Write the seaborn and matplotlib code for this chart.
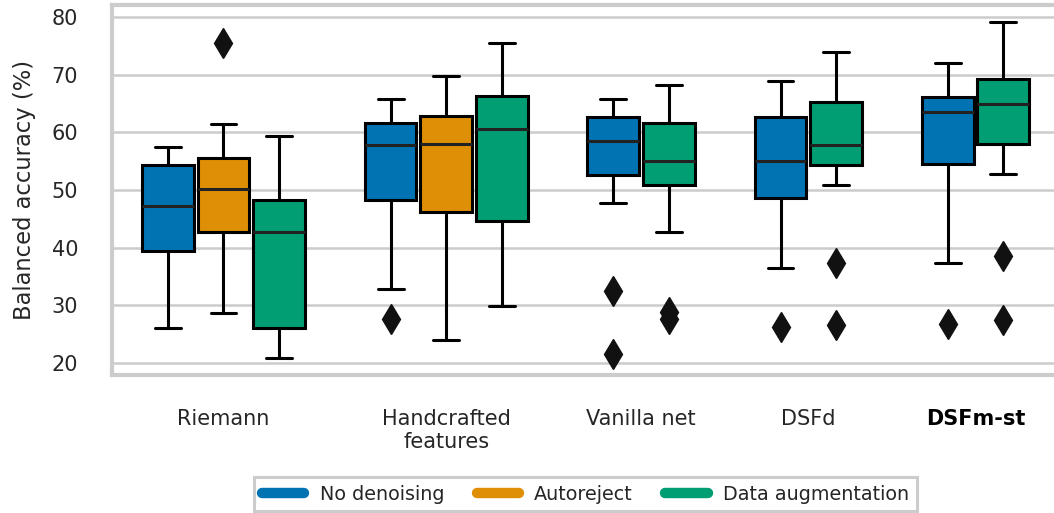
import numpy as np
import pandas as pd
import matplotlib.pyplot as plt
import seaborn as sns
from matplotlib.lines import Line2D

# %%
methods = ['Riemann', 'Handcrafted\nfeatures', 'Vanilla net', 'DSFd', 'DSFm-st']
conditions = ['No denoising', 'Autoreject', 'Data augmentation']

# balanced accuracy (%) per fold
riemann_none = [26.1, 31.5, 36.8, 39.4, 42.0, 45.1, 47.2, 49.6, 52.3, 54.3, 55.4, 56.5, 57.4]
riemann_ar = [28.6, 34.0, 39.5, 42.8, 45.3, 48.1, 50.2, 52.0, 53.9, 55.5, 57.8, 61.4, 75.5]
riemann_aug = [20.9, 23.1, 24.8, 26.0, 33.5, 39.7, 42.8, 44.6, 46.9, 48.3, 51.2, 55.0, 59.4]
hand_none = [27.6, 32.9, 41.5, 48.2, 52.4, 55.6, 57.8, 59.0, 60.5, 61.7, 63.1, 64.5, 65.8]
hand_ar = [23.9, 35.2, 41.8, 46.2, 50.6, 54.9, 57.9, 59.5, 61.2, 62.8, 65.0, 67.4, 69.7]
hand_aug = [29.9, 36.4, 41.2, 44.7, 50.3, 56.8, 60.6, 62.5, 64.7, 66.4, 69.1, 72.3, 75.5]
vanilla_none = [21.6, 32.4, 47.7, 52.6, 54.8, 56.9, 58.5, 60.1, 61.4, 62.7, 63.9, 64.8, 65.8]
vanilla_aug = [27.6, 28.8, 42.8, 50.9, 52.3, 53.8, 55.0, 57.1, 59.6, 61.6, 63.8, 66.0, 68.3]
dsfd_none = [26.2, 36.5, 43.1, 48.7, 51.0, 53.2, 55.0, 57.8, 60.3, 62.7, 65.1, 67.2, 69.0]
dsfd_aug = [26.6, 37.3, 50.8, 54.4, 55.6, 56.7, 57.8, 60.2, 62.9, 65.3, 68.0, 71.1, 74.0]
dsfm_none = [26.8, 37.3, 46.2, 54.5, 58.1, 61.2, 63.6, 64.4, 65.3, 66.2, 68.0, 70.2, 72.1]
dsfm_aug = [27.4, 38.6, 52.8, 58.0, 60.4, 62.9, 65.0, 66.3, 67.8, 69.3, 72.0, 75.4, 79.1]

results = [
    [('No denoising', riemann_none), ('Autoreject', riemann_ar), ('Data augmentation', riemann_aug)],
    [('No denoising', hand_none), ('Autoreject', hand_ar), ('Data augmentation', hand_aug)],
    [('No denoising', vanilla_none), ('Data augmentation', vanilla_aug)],
    [('No denoising', dsfd_none), ('Data augmentation', dsfd_aug)],
    [('No denoising', dsfm_none), ('Data augmentation', dsfm_aug)],
]

# layout: first box slot of each group
group_start = [0, 4, 8, 11, 14]

# %%
rows = []
tick_pos = []
for start, group in zip(group_start, results):
    for j, (cond, vals) in enumerate(group):
        for v in vals:
            rows.append({'pos': start + j, 'acc': v, 'cond': cond})
    tick_pos.append(start + (len(group) - 1) / 2)
df = pd.DataFrame(rows)

# %%
sns.set_style('whitegrid')
palette = sns.color_palette('colorblind')[:3]

fig = plt.figure(figsize=(10.54, 5.13), dpi=100)
ax = fig.add_axes([0.1063, 0.269, 0.8985, 0.7212])

sns.boxplot(data=df, x='pos', y='acc', hue='cond', hue_order=conditions,
            palette=palette, native_scale=True, dodge=False, width=0.93,
            linecolor='k', linewidth=2.2, fliersize=15,
            flierprops=dict(marker='d', markerfacecolor='#111111', markeredgecolor='#111111'),
            medianprops=dict(color='#222222'), legend=False, saturation=1, ax=ax)

ax.set_xlim(-1, 16)
ax.set_ylim(17.9, 82.1)
ax.set_yticks([20, 30, 40, 50, 60, 70, 80])
ax.set_xticks(tick_pos)
ax.set_xticklabels(methods)
ax.tick_params(axis='both', length=0, pad=24.5, labelsize=15)
ax.get_xticklabels()[-1].set_fontweight('bold')
ax.get_xticklabels()[-1].set_color('black')
ax.set_xlabel('')
ax.set_ylabel('Balanced accuracy (%)', fontsize=16.3, labelpad=11)

ax.xaxis.grid(False)
ax.yaxis.grid(True, color='#cccccc', linewidth=1.8)
for s in ax.spines.values():
    s.set_color('#cccccc')
    s.set_linewidth(3)

handles = [Line2D([0], [0], color=c, lw=7.5, solid_capstyle='round') for c in palette]
leg = ax.legend(handles, conditions, loc='upper center', bbox_to_anchor=(0.5, -0.276),
                borderaxespad=0, ncol=3, fontsize=13.8, frameon=True, fancybox=False,
                framealpha=1, edgecolor='#cccccc', handlelength=2.2, columnspacing=1.7)
leg.get_frame().set_linewidth(2.2)

fig.savefig('out.png', dpi=100)
